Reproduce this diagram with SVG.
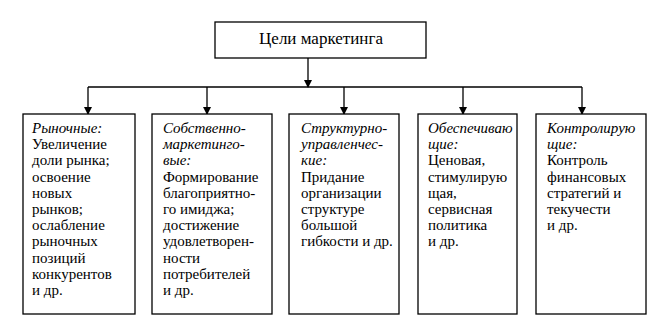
<svg xmlns="http://www.w3.org/2000/svg" width="672" height="331" viewBox="0 0 672 331">
<style>
rect.b{fill:#fff;stroke:#000;stroke-width:1.3}
text{font-family:'Liberation Serif','Times New Roman',serif;font-size:15px;fill:#000}
.i{font-style:italic}
.t{font-size:17px}
.c{stroke:#000;stroke-width:1.3;fill:none}
</style>
<defs>
<marker id="ah" markerWidth="8" markerHeight="10" refX="7" refY="5" orient="auto" markerUnits="userSpaceOnUse" viewBox="0 0 8 10">
<path d="M0,1 L8,5 L0,9 Z" fill="#000"/>
</marker>
</defs>
<rect width="672" height="331" fill="#fff"/>
<g id="connectors">
<line class="c" x1="308" y1="58" x2="308" y2="87" marker-end="url(#ah)"/>
<line class="c" x1="88" y1="87" x2="582" y2="87"/>
<line class="c" x1="88" y1="87" x2="88" y2="114" marker-end="url(#ah)"/>
<line class="c" x1="207" y1="87" x2="207" y2="114" marker-end="url(#ah)"/>
<line class="c" x1="344" y1="87" x2="344" y2="114" marker-end="url(#ah)"/>
<line class="c" x1="463" y1="87" x2="463" y2="114" marker-end="url(#ah)"/>
<line class="c" x1="582" y1="87" x2="582" y2="114" marker-end="url(#ah)"/>
</g>
<g id="top">
<rect class="b" x="215" y="22" width="211" height="36"/>
<text class="t" x="321" y="44" text-anchor="middle">Цели маркетинга</text>
</g>
<g id="n1">
<rect class="b" x="23" y="114" width="112" height="200"/>
<text x="32" y="133"><tspan class="i">Рыночные:</tspan><tspan x="32" dy="16.2">Увеличение</tspan><tspan x="32" dy="16.2">доли рынка;</tspan><tspan x="32" dy="16.2">освоение</tspan><tspan x="32" dy="16.2">новых</tspan><tspan x="32" dy="16.2">рынков;</tspan><tspan x="32" dy="16.2">ослабление</tspan><tspan x="32" dy="16.2">рыночных</tspan><tspan x="32" dy="16.2">позиций</tspan><tspan x="32" dy="16.2">конкурентов</tspan><tspan x="32" dy="16.2">и др.</tspan></text>
</g>
<g id="n2">
<rect class="b" x="152" y="114" width="120" height="200"/>
<text x="163" y="133"><tspan class="i">Собственно-</tspan><tspan class="i" x="163" dy="16.2">маркетинго-</tspan><tspan class="i" x="163" dy="16.2">вые:</tspan><tspan x="163" dy="16.2">Формирование</tspan><tspan x="163" dy="16.2">благоприятно-</tspan><tspan x="163" dy="16.2">го имиджа;</tspan><tspan x="163" dy="16.2">достижение</tspan><tspan x="163" dy="16.2">удовлетворен-</tspan><tspan x="163" dy="16.2">ности</tspan><tspan x="163" dy="16.2">потребителей</tspan><tspan x="163" dy="16.2">и др.</tspan></text>
</g>
<g id="n3">
<rect class="b" x="289" y="114" width="110" height="200"/>
<text x="301" y="133"><tspan class="i">Структурно-</tspan><tspan class="i" x="301" dy="16.2">управленчес-</tspan><tspan class="i" x="301" dy="16.2">кие:</tspan><tspan x="301" dy="16.2">Придание</tspan><tspan x="301" dy="16.2">организации</tspan><tspan x="301" dy="16.2">структуре</tspan><tspan x="301" dy="16.2">большой</tspan><tspan x="301" dy="16.2">гибкости и др.</tspan></text>
</g>
<g id="n4">
<rect class="b" x="418" y="114" width="99" height="200"/>
<text x="428" y="133"><tspan class="i">Обеспечиваю</tspan><tspan class="i" x="428" dy="16.2">щие:</tspan><tspan x="428" dy="16.2">Ценовая,</tspan><tspan x="428" dy="16.2">стимулирую</tspan><tspan x="428" dy="16.2">щая,</tspan><tspan x="428" dy="16.2">сервисная</tspan><tspan x="428" dy="16.2">политика</tspan><tspan x="428" dy="16.2">и др.</tspan></text>
</g>
<g id="n5">
<rect class="b" x="536" y="114" width="110" height="200"/>
<text x="547" y="133"><tspan class="i">Контролирую</tspan><tspan class="i" x="547" dy="16.2">щие:</tspan><tspan x="547" dy="16.2">Контроль</tspan><tspan x="547" dy="16.2">финансовых</tspan><tspan x="547" dy="16.2">стратегий и</tspan><tspan x="547" dy="16.2">текучести</tspan><tspan x="547" dy="16.2">и др.</tspan></text>
</g>
</svg>
